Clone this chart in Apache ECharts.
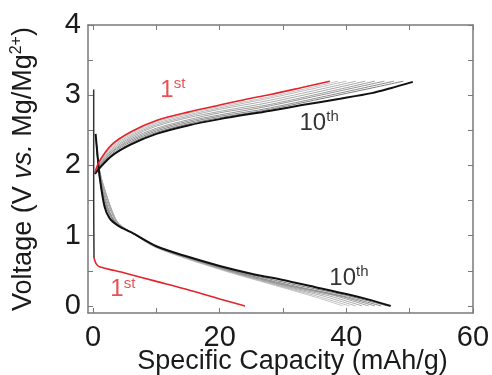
<!DOCTYPE html>
<html>
<head>
<meta charset="utf-8">
<script src="https://cdn.jsdelivr.net/npm/echarts@6/dist/echarts.min.js"></script>
<style>
  html, body { margin: 0; padding: 0; background: #fff; }
  #chart { width: 492px; height: 375px; }
</style>
</head>
<body>
<div id="chart"></div>
<script>
// capacity (mAh/g), voltage (V) pairs
var restSpike = [[0.1, 3.08], [0.1, 1.5], [0.15, 0.68]];

var charge1 = [[0.3, 1.9], [1, 2.06], [3, 2.3], [6, 2.48], [10, 2.64], [15, 2.76], [20, 2.86], [24, 2.94], [28, 3.01], [33, 3.11], [37.4, 3.2]];
var discharge1 = [[0.15, 0.68], [0.5, 0.6], [1, 0.56], [5, 0.47], [10, 0.35], [15, 0.23], [20, 0.1], [24, 0]];

var charge10 = [[0.3, 1.88], [1, 1.96], [3, 2.14], [6, 2.3], [10, 2.45], [15, 2.57], [20, 2.66], [28, 2.78], [33, 2.86], [39, 2.95], [44, 3.03], [47, 3.1], [50.5, 3.19]];
var discharge10 = [[0.4, 2.45], [0.7, 2.15], [1.1, 1.8], [1.8, 1.42], [2.6, 1.25], [4, 1.14], [6, 1.05], [10, 0.85], [15, 0.7], [20, 0.57], [25, 0.46], [30, 0.37], [35, 0.27], [40, 0.17], [44, 0.08], [47, 0]];

// cycles 2..9
var chargeMid = [
  [[0.3, 1.9], [1, 2.05], [3, 2.28], [6, 2.46], [10, 2.62], [15, 2.74], [20, 2.84], [28, 2.98], [38.7, 3.2]],
  [[0.3, 1.9], [1, 2.04], [3, 2.26], [6, 2.44], [10, 2.6], [15, 2.72], [20, 2.82], [28, 2.96], [40, 3.2]],
  [[0.3, 1.89], [1, 2.02], [3, 2.24], [6, 2.42], [10, 2.58], [15, 2.7], [20, 2.8], [28, 2.93], [41.5, 3.2]],
  [[0.3, 1.89], [1, 2.01], [3, 2.22], [6, 2.4], [10, 2.56], [15, 2.68], [20, 2.77], [28, 2.9], [43, 3.2]],
  [[0.3, 1.89], [1, 2.0], [3, 2.2], [6, 2.38], [10, 2.53], [15, 2.65], [20, 2.75], [28, 2.87], [44.5, 3.2]],
  [[0.3, 1.89], [1, 1.99], [3, 2.19], [6, 2.36], [10, 2.51], [15, 2.63], [20, 2.72], [28, 2.85], [46, 3.2]],
  [[0.3, 1.88], [1, 1.98], [3, 2.17], [6, 2.34], [10, 2.49], [15, 2.61], [20, 2.7], [28, 2.82], [47.5, 3.2]],
  [[0.3, 1.88], [1, 1.97], [3, 2.15], [6, 2.32], [10, 2.47], [15, 2.59], [20, 2.68], [28, 2.8], [49, 3.2]]
];
var dischargeMid = [
  [[0.5, 2.3], [1, 1.95], [2, 1.6], [3.2, 1.3], [4, 1.17], [6, 1.05], [10, 0.83], [20, 0.52], [30, 0.26], [35, 0.13], [39.5, 0]],
  [[0.5, 2.32], [1, 1.94], [2.1, 1.58], [3.3, 1.28], [4, 1.17], [6, 1.05], [10, 0.83], [20, 0.53], [30, 0.27], [35, 0.15], [40.5, 0]],
  [[0.5, 2.34], [1, 1.93], [2.2, 1.56], [3.4, 1.27], [4.2, 1.16], [6, 1.05], [10, 0.84], [20, 0.53], [30, 0.28], [36, 0.15], [41.5, 0]],
  [[0.5, 2.35], [1, 1.92], [2.2, 1.55], [3.4, 1.26], [4.2, 1.16], [6, 1.05], [10, 0.84], [20, 0.54], [30, 0.29], [37, 0.15], [42.5, 0]],
  [[0.5, 2.36], [0.9, 1.95], [2, 1.55], [3.2, 1.27], [4.2, 1.15], [6, 1.05], [10, 0.84], [20, 0.54], [30, 0.3], [38, 0.15], [43.5, 0]],
  [[0.5, 2.38], [0.9, 1.93], [1.9, 1.53], [3, 1.27], [4.1, 1.15], [6, 1.05], [10, 0.85], [20, 0.55], [30, 0.31], [39, 0.14], [44.5, 0]],
  [[0.5, 2.39], [0.9, 1.92], [1.8, 1.52], [2.9, 1.27], [4, 1.15], [6, 1.05], [10, 0.85], [20, 0.55], [30, 0.32], [40, 0.13], [45.5, 0]],
  [[0.5, 2.4], [0.9, 1.9], [1.7, 1.5], [2.8, 1.27], [4, 1.15], [6, 1.05], [10, 0.85], [20, 0.56], [30, 0.34], [40, 0.15], [46.5, 0]]
];
var midColors = ['#c4c4c4', '#bababa', '#b0b0b0', '#a6a6a6', '#9c9c9c', '#929292', '#888888', '#7c7c7c'];

var xLabels = [0, 20, 40, 60];
var xTicks = [0, 10, 20, 30, 40, 50, 60];
var yLabels = [0, 1, 2, 3, 4];
var yTicks = [0, 0.5, 1, 1.5, 2, 2.5, 3, 3.5, 4];

var font = 'Liberation Sans, Arial, sans-serif';
var frameColor = '#7a7a7a';

function line(name, data, color, width, z) {
  return {
    name: name, type: 'line', data: data, smooth: 0.3,
    symbol: 'none', z: z,
    lineStyle: { color: color, width: width },
    emphasis: { disabled: true }
  };
}

var series = [];
chargeMid.forEach(function (d, i) { series.push(line('c' + (i + 2), d, midColors[i], 1, 2)); });
dischargeMid.forEach(function (d, i) { series.push(line('d' + (i + 2), d, midColors[i], 1, 2)); });
series.push(line('rest', restSpike, '#333', 1.5, 3));
series.push(line('c10', charge10, '#111', 2, 4));
series.push(line('d10', discharge10, '#111', 2, 4));
series.push(line('c1', charge1, '#e3242b', 1.6, 5));
series.push(line('d1', discharge1, '#e3242b', 1.6, 5));

// cycle labels
function tag(txt, color) {
  return {
    show: true, position: 'inside', color: color,
    formatter: txt,
    rich: {
      n: { fontSize: 24, fontFamily: font, color: color },
      s: { fontSize: 15, fontFamily: font, color: color, padding: [0, 0, 12, 0] }
    }
  };
}
series.push({
  type: 'scatter', symbolSize: 0, z: 6, silent: true,
  data: [
    { value: [12.6, 3.07], label: tag('{n|1}{s|st}', '#e3242b') },
    { value: [4.7, 0.23], label: tag('{n|1}{s|st}', '#e3242b') },
    { value: [35.7, 2.6], label: tag('{n|10}{s|th}', '#000') },
    { value: [40.4, 0.4], label: tag('{n|10}{s|th}', '#000') }
  ]
});

var tickStyle = { show: true, inside: true, length: 5, lineStyle: { color: frameColor, width: 1 } };
var frameLine = { show: true, onZero: false, lineStyle: { color: frameColor, width: 1.5 } };

var option = {
  animation: false,
  grid: { left: 88, right: 19, top: 25, bottom: 62, outerBoundsMode: 'none' },
  xAxis: [{
    type: 'value', min: -0.8, max: 60,
    name: 'Specific Capacity (mAh/g)', nameLocation: 'middle', nameGap: 35, nameMoveOverlap: false,
    nameTextStyle: { fontSize: 27, fontFamily: font, color: '#1a1a1a', padding: [0, 0, 0, 24] },
    axisLine: frameLine,
    axisTick: Object.assign({ customValues: xTicks }, tickStyle),
    axisLabel: { customValues: xLabels, fontSize: 29, fontFamily: font, color: '#1a1a1a', margin: 10 },
    splitLine: { show: false }
  }, {
    type: 'value', min: -0.8, max: 60, position: 'top',
    axisLine: frameLine,
    axisTick: Object.assign({ customValues: xTicks }, tickStyle),
    axisLabel: { show: false },
    splitLine: { show: false }
  }],
  yAxis: [{
    type: 'value', min: -0.1, max: 4,
    name: 'Voltage (V {i|vs.} Mg/Mg{s|2+})', nameLocation: 'middle', nameGap: 50, nameMoveOverlap: false,
    nameTextStyle: {
      fontSize: 27, fontFamily: font, color: '#1a1a1a',
      rich: {
        i: { fontSize: 27, fontFamily: font, fontStyle: 'italic', color: '#1a1a1a' },
        s: { fontSize: 16, fontFamily: font, color: '#1a1a1a', padding: [0, 0, 13, 0] }
      }
    },
    axisLine: frameLine,
    axisTick: Object.assign({ customValues: yTicks }, tickStyle),
    axisLabel: { customValues: yLabels, fontSize: 29, fontFamily: font, color: '#1a1a1a', margin: 7 },
    splitLine: { show: false }
  }, {
    type: 'value', min: -0.1, max: 4, position: 'right',
    axisLine: frameLine,
    axisTick: Object.assign({ customValues: yTicks }, tickStyle),
    axisLabel: { show: false },
    splitLine: { show: false }
  }],
  series: series
};

var chart = echarts.init(document.getElementById('chart'));
chart.setOption(option);
</script>
</body>
</html>
